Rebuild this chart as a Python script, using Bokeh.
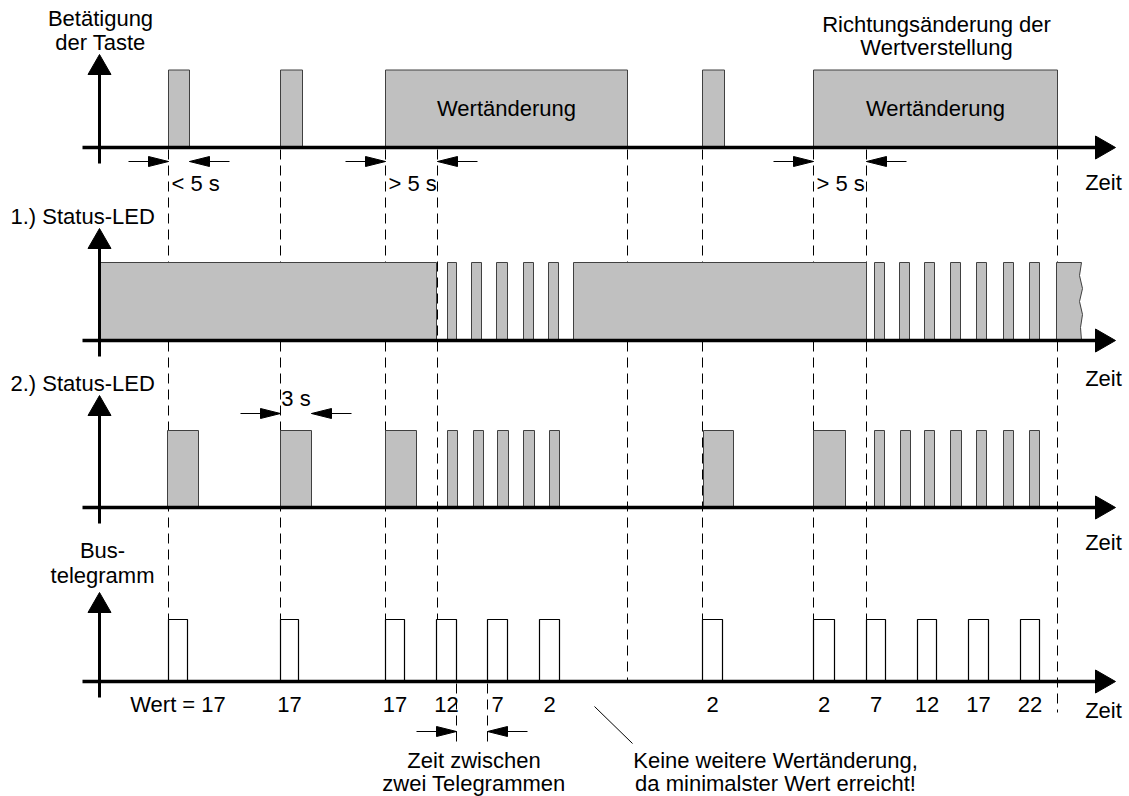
from bokeh.plotting import figure
from bokeh.models import Range1d
from bokeh.core.properties import value
from bokeh.embed import file_html
from bokeh.resources import INLINE

# ---------------- data (time positions of the pulses) ----------------
taste_start = [168, 280, 385, 702, 813]
taste_end = [189, 302, 627, 724, 1057]
taste_text = ["", "", "Wertänderung", "", "Wertänderung"]

led1_start = [99, 447, 471, 496, 523, 548, 573, 874, 899, 924, 950, 976, 1003, 1029]
led1_end = [436, 456, 481, 507, 533, 558, 866, 884, 909, 934, 960, 986, 1013, 1039]
led1_open_start = [1056]   # pulse that continues beyond the diagram
led1_open_end = [1081]

led2_start = [167, 280, 385, 447, 473, 497, 523, 549, 703, 813, 874, 900, 924, 950, 976, 1003, 1029]
led2_end = [198, 311, 416, 457, 483, 508, 534, 559, 733, 845, 884, 910, 934, 961, 986, 1013, 1039]

bus_start = [168, 280, 385, 436, 487, 539, 702, 813, 866, 917, 968, 1020]
bus_end = [187, 298, 404, 456, 507, 559, 722, 834, 885, 936, 988, 1039]
bus_values = ["Wert = 17", "17", "17", "12", "7", "2", "2", "2", "7", "12", "17", "22"]

event_times = [168, 280, 385, 437, 627, 702, 813, 866, 1057]

dim_row1 = [(168, 189, "< 5 s"), (385, 437, "> 5 s"), (813, 866, "> 5 s")]
dim_row3 = [(280, 311, "3 s")]
dim_row4 = [(456, 487, "Zeit zwischen", "zwei Telegrammen")]

row_names = [["Betätigung", "der Taste"], ["1.) Status-LED"], ["2.) Status-LED"], ["Bus-", "telegramm"]]
time_label = "Zeit"
top_note = ["Richtungsänderung der", "Wertverstellung"]
bottom_note = ["Keine weitere Wertänderung,", "da minimalster Wert erreicht!"]

# ---------------- layout (screen-like coordinates) ----------------
W, H = 1129, 796
base = [147, 340, 507, 681]
top = [69.5, 262, 430, 619]
ax_tip = [54, 228, 395, 592]
ax_bot = [163, 356, 523, 697]
AX_X = 99
H_START, H_TIP = 82, 1115

FONT = value("Liberation Sans")
FS = value("22px")
GREY = "#c0c0c0"
EDGE = "#404040"

p = figure(width=W, height=H, x_range=Range1d(0, W), y_range=Range1d(H, 0),
           x_axis_type=None, y_axis_type=None, output_backend="svg",
           toolbar_location=None, min_border=0, min_border_left=0, min_border_right=0,
           min_border_top=0, min_border_bottom=0)
p.grid.visible = False
p.outline_line_color = None
p.background_fill_color = "white"


def head(tx, ty, dx, dy, length, half):
    bx, by = tx - dx * length, ty - dy * length
    px, py = -dy, dx
    return [tx, bx + px * half, bx - px * half], [ty, by + py * half, by - py * half]


# dashed event lines (behind everything)
x0s, y0s, x1s, y1s = [], [], [], []
for i, t in enumerate(event_times):
    if any(abs(t - s) <= 2 for s in bus_start):
        yend = top[3]
    elif i == len(event_times) - 1:
        yend = base[3] + 31
    else:
        yend = base[3]
    x0s.append(t); y0s.append(base[0] + 2); x1s.append(t); y1s.append(yend)
for (a, b, *_t) in dim_row4:
    for t in (a, b):
        x0s.append(t); y0s.append(base[3] + 2); x1s.append(t); y1s.append(base[3] + 60)
p.segment(x0s, y0s, x1s, y1s, line_color="black", line_width=1, line_dash="10 6")

# pulses
p.quad(left=taste_start, right=taste_end, top=top[0], bottom=base[0],
       fill_color=GREY, line_color=EDGE, line_width=1)
p.quad(left=led1_start, right=led1_end, top=top[1], bottom=base[1],
       fill_color=GREY, line_color=EDGE, line_width=1)
wave = [0, -2, 1, -2, 1, -1, 0]
wx, wy = [], []
for s, e in zip(led1_open_start, led1_open_end):
    n = len(wave)
    xs = [s, e] + [e + w for w in wave[1:-1]] + [e, s]
    ys = [top[1], top[1]] + [top[1] + (base[1] - top[1]) * k / (n - 1) for k in range(1, n - 1)] + [base[1], base[1]]
    wx.append(xs); wy.append(ys)
p.patches(wx, wy, fill_color=GREY, line_color=EDGE, line_width=1)
p.quad(left=led2_start, right=led2_end, top=top[2], bottom=base[2],
       fill_color=GREY, line_color=EDGE, line_width=1)
p.quad(left=bus_start, right=bus_end, top=top[3], bottom=base[3],
       fill_color="white", line_color="black", line_width=1.2)

# axes
p.segment([H_START] * 4, base, [H_TIP - 18] * 4, base, line_color="black", line_width=3.5)
p.segment([AX_X] * 4, ax_bot, [AX_X] * 4, [t + 18 for t in ax_tip], line_color="black", line_width=3)
hx, hy = [], []
for b, t in zip(base, ax_tip):
    a = head(H_TIP, b, 1, 0, 20, 11.5); hx.append(a[0]); hy.append(a[1])
    a = head(AX_X, t, 0, -1, 20, 11.5); hx.append(a[0]); hy.append(a[1])

# dimension arrows
dl_x0, dl_y0, dl_x1, dl_y1 = [], [], [], []
def dim(a, b, y):
    dl_x0.extend([a - 40, b + 40]); dl_x1.extend([a, b]); dl_y0.extend([y, y]); dl_y1.extend([y, y])
    h1 = head(a, y, 1, 0, 20, 5); h2 = head(b, y, -1, 0, 20, 5)
    hx.extend([h1[0], h2[0]]); hy.extend([h1[1], h2[1]])

for a, b, _ in dim_row1:
    dim(a, b, base[0] + 14)
for a, b, _ in dim_row3:
    dim(a, b, top[2] - 17)
for a, b, *_ in dim_row4:
    dim(a, b, base[3] + 50)
p.segment(dl_x0, dl_y0, dl_x1, dl_y1, line_color="black", line_width=1)
p.patches(hx, hy, fill_color="black", line_color="black", line_width=1)

# pointer line of the bottom note
p.segment([594], [706], [632], [743], line_color="black", line_width=1)

# ---------------- texts ----------------
def txt(xs, ys, ts, align="center"):
    p.text(xs, ys, text=ts, text_font=FONT, text_font_size=FS, text_color="black",
           text_align=align, text_baseline="middle")

# texts inside long key presses
wt_x = [(s + e) / 2 for s, e, t in zip(taste_start, taste_end, taste_text) if t]
txt(wt_x, [(top[0] + base[0]) / 2] * len(wt_x), [t for t in taste_text if t])

# dimension labels
txt([a + 3 for a, b, _ in dim_row1], [base[0] + 36] * len(dim_row1), [t for *_x, t in dim_row1], "left")
txt([(a + b) / 2 for a, b, _ in dim_row3], [top[2] - 32] * len(dim_row3), [t for *_x, t in dim_row3])
for a, b, l1, l2 in dim_row4:
    txt([(a + b) / 2 + 2] * 2, [base[3] + 79, base[3] + 102], [l1, l2])

# bus values
txt([(s + e) / 2 for s, e in zip(bus_start, bus_end)], [base[3] + 23] * len(bus_values), bus_values)

# time labels
txt([1103] * 4, [182, 378, 542, 710], [time_label] * 4)

# row names
txt([100, 100], [18, 42], row_names[0])
txt([10], [216], row_names[1], "left")
txt([10], [383], row_names[2], "left")
txt([102, 102], [550, 575], row_names[3])

# notes
txt([936, 936], [24, 47], top_note)
txt([775, 775], [760, 783], bottom_note)

open("out.html", "w").write(file_html(p, INLINE))
